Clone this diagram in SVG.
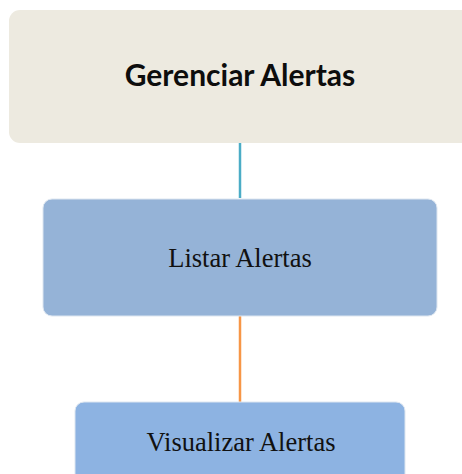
<svg xmlns="http://www.w3.org/2000/svg" width="462" height="474" viewBox="0 0 462 474">
<style>
.t1{font-family:Lato,"Open Sans","Liberation Sans",sans-serif;font-weight:bold;font-size:30px;fill:#0d0d0d}
.t2{font-family:"Liberation Serif","Times New Roman",serif;font-size:26.5px;fill:#111}
</style>
<rect width="462" height="474" fill="#fff"/>
<g id="connectors">
<line x1="240" y1="143" x2="240" y2="198" stroke="#4BACC6" stroke-width="2.5"/>
<line x1="240" y1="316" x2="240" y2="403" stroke="#F79646" stroke-width="2.5"/>
</g>
<g id="gerenciar">
<rect x="9" y="10" width="470" height="133" rx="11" fill="#EDEAE0"/>
<text class="t1" x="240" y="86" text-anchor="middle">Gerenciar Alertas</text>
</g>
<g id="listar">
<rect x="43" y="199" width="394" height="117" rx="9" fill="#95B3D7" stroke="#dde6f0" stroke-width="1"/>
<text class="t2" x="240" y="267" text-anchor="middle">Listar Alertas</text>
</g>
<g id="visualizar">
<rect x="75" y="402" width="330" height="90" rx="9" fill="#8DB3E2" stroke="#dde6f0" stroke-width="1"/>
<text class="t2" x="241" y="451" text-anchor="middle">Visualizar Alertas</text>
</g>
</svg>
